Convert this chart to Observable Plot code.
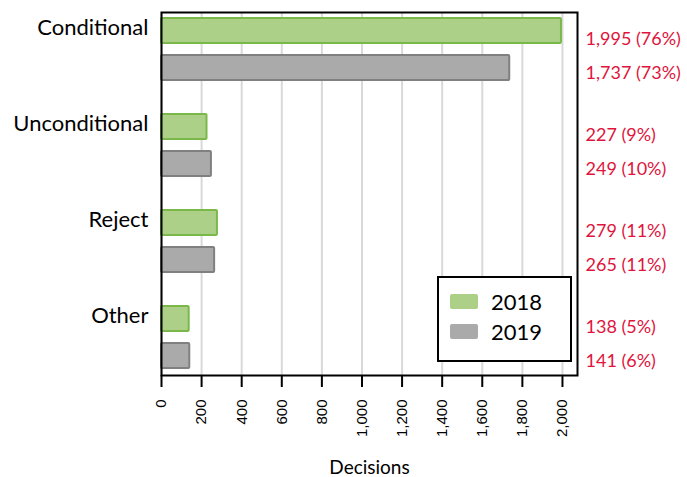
<!DOCTYPE html>
<html>
<head>
<meta charset="utf-8">
<script src="https://cdn.jsdelivr.net/npm/d3@7"></script>
<script src="https://cdn.jsdelivr.net/npm/@observablehq/plot@0.6"></script>
<style>
  html, body { margin: 0; padding: 0; background: #fff; }
  #wrap { position: relative; width: 687px; height: 477px; }
  #legend { position: absolute; left: 437px; top: 276px; width: 131px; height: 82px;
    border: 2px solid #000; background: #fff; font-family: Lato, sans-serif; font-size: 22px; color: #000; }
  .item { position: absolute; left: 11px; display: flex; align-items: center; }
  .sw { width: 28px; height: 15px; margin-right: 13px; border-radius: 2px; }
</style>
</head>
<body>
<div id="wrap"></div>
<script>
const categories = ["Conditional", "Unconditional", "Reject", "Other"];
const years = ["2018", "2019"];
const values2018 = [1995, 227, 279, 138];
const values2019 = [1737, 249, 265, 141];
const pct2018 = [76, 9, 11, 5];
const pct2019 = [73, 10, 11, 6];
const xTicks = [0, 200, 400, 600, 800, 1000, 1200, 1400, 1600, 1800, 2000];

const fills = {"2018": "#acd088", "2019": "#aaaaaa"};
const strokes = {"2018": "#7ab84a", "2019": "#808080"};

const rows2018 = categories.map((c, i) => ({category: c, year: "2018", value: values2018[i], pct: pct2018[i]}));
const rows2019 = categories.map((c, i) => ({category: c, year: "2019", value: values2019[i], pct: pct2019[i]}));
const fmt = d3.format(",");
const lab = d => `${fmt(d.value)} (${d.pct}%)`;

const chart = Plot.plot({
  width: 687,
  height: 477,
  marginLeft: 161,
  marginRight: 110,
  marginTop: 12,
  marginBottom: 102,
  style: {fontFamily: "Lato, sans-serif", background: "#fff"},
  x: {domain: [0, 2075], axis: null},
  y: {domain: categories, paddingInner: 0.33, paddingOuter: 0.038, axis: null},
  marks: [
    Plot.gridX(xTicks, {stroke: "#d9d9d9", strokeWidth: 2, strokeOpacity: 1}),
    Plot.barX(rows2018, {x: "value", y: "category", fill: fills["2018"], stroke: strokes["2018"], strokeWidth: 2, insetTop: 1, insetBottom: 38, rx: 1}),
    Plot.barX(rows2019, {x: "value", y: "category", fill: fills["2019"], stroke: strokes["2019"], strokeWidth: 2, insetTop: 38, insetBottom: 1, rx: 1}),
    Plot.frame({stroke: "#000", strokeWidth: 2}),
    Plot.axisX(xTicks, {anchor: "bottom", tickSize: 12, tickPadding: 12, tickRotate: -90, tickFormat: fmt, strokeWidth: 2, stroke: "#000", strokeOpacity: 1, fontSize: 15, fontFamily: "Liberation Sans, Arial, sans-serif", fill: "#000", label: null}),
    Plot.text(rows2018, {y: "category", text: lab, frameAnchor: "right", textAnchor: "start", dx: 8, dy: -10, fill: "#e0143c", fontSize: 18}),
    Plot.text(rows2019, {y: "category", text: lab, frameAnchor: "right", textAnchor: "start", dx: 8, dy: 24, fill: "#e0143c", fontSize: 18}),
    Plot.text(categories, {y: d => d, text: d => d, frameAnchor: "left", textAnchor: "end", dx: -13, dy: -21.5, fontSize: 22, fill: "#000"}),
    Plot.text(["Decisions"], {text: d => d, frameAnchor: "bottom", dy: 98, fontSize: 19, fill: "#000"})
  ]
});

const wrap = document.getElementById("wrap");
wrap.appendChild(chart);
const legend = document.createElement("div");
legend.id = "legend";
years.forEach((y, i) => {
  const item = document.createElement("div");
  item.className = "item";
  item.style.top = (i === 0 ? 10 : 40) + "px";
  const sw = document.createElement("span");
  sw.className = "sw";
  sw.style.background = fills[y];
  const t = document.createElement("span");
  t.textContent = y;
  item.appendChild(sw);
  item.appendChild(t);
  legend.appendChild(item);
});
wrap.appendChild(legend);
</script>
</body>
</html>
